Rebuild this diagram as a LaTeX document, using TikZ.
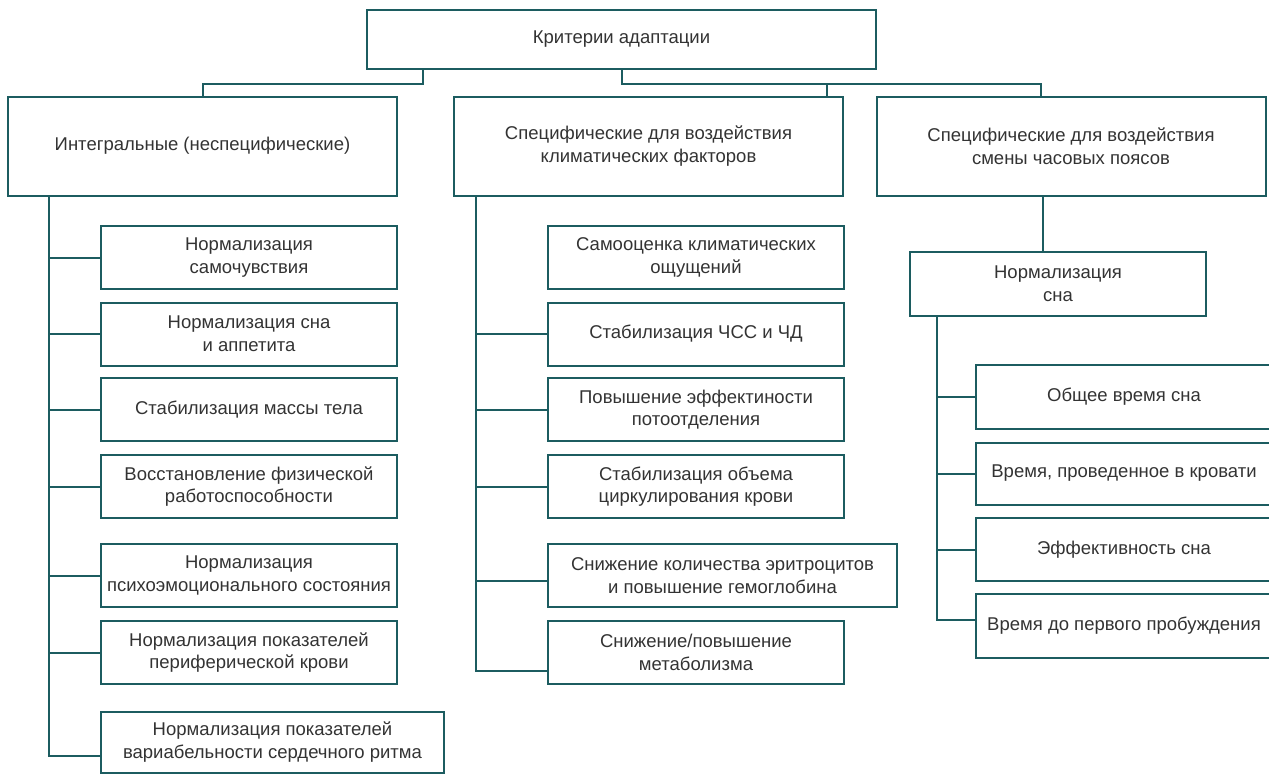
\documentclass[tikz,border=0pt]{standalone}
\usepackage{fontspec}
\setmainfont{Liberation Sans}
\definecolor{tealline}{RGB}{28, 92, 96}
\definecolor{textgray}{RGB}{51, 51, 51}

\begin{document}
\begin{tikzpicture}[x=1pt, y=-1pt,
  box/.style={draw=tealline, line width=2pt, inner sep=2pt, align=center,
              text=textgray, font=\fontsize{18.5}{22.7}\selectfont},
  head/.style={box, minimum width=389pt, minimum height=99pt},
  item/.style={box, minimum width=296pt, minimum height=63pt},
  link/.style={draw=tealline, line width=2pt},
]
\useasboundingbox (0,0) rectangle (1269,774);

% Top level
\node[box, minimum width=509pt, minimum height=59pt] (root) at (621.5, 39.5) {Критерии адаптации};
\node[head] (integ) at (202.5, 146) {Интегральные (неспецифические)};
\node[head] (clim) at (648.5, 146) {Специфические для воздействия\\климатических факторов};
\node[head] (tz) at (1071, 146) {Специфические для воздействия\\смены часовых поясов};

\coordinate (lft) at (423, 84);
\coordinate (rgt) at (622, 84);
\coordinate (cdrop) at (827, 0);
\coordinate (tdrop) at (1041, 0);
\draw[link] (lft |- root.south) -- (lft) -| (integ.north);
\draw[link] (rgt |- root.south) -- (rgt) -| (tdrop |- tz.north);
\draw[link] (rgt) -| (cdrop |- clim.north);

% Integral criteria
\node[item] (i1) at (249, 257.5) {Нормализация\\самочувствия};
\node[item] (i2) at (249, 334) {Нормализация сна\\и аппетита};
\node[item] (i3) at (249, 409.5) {Стабилизация массы тела};
\node[item] (i4) at (249, 486.5) {Восстановление физической\\работоспособности};
\node[item] (i5) at (249, 575.5) {Нормализация\\психоэмоционального состояния};
\node[item] (i6) at (249, 652.5) {Нормализация показателей\\периферической крови};
\node[item, minimum width=343pt, minimum height=61pt] (i7) at (272.5, 742) {Нормализация показателей\\вариабельности сердечного ритма};

\coordinate (itr) at (49, 0);
\draw[link] (itr |- integ.south) |- ([yshift=-14pt]i7.west);
\draw[link] (itr |- i1.west) -- (i1.west);
\draw[link] (itr |- i2.west) -- (i2.west);
\draw[link] (itr |- i3.west) -- (i3.west);
\draw[link] (itr |- i4.west) -- (i4.west);
\draw[link] (itr |- i5.west) -- (i5.west);
\draw[link] (itr |- i6.west) -- (i6.west);

% Climatic factors
\node[item] (c1) at (696, 257.5) {Самооценка климатических\\ощущений};
\node[item] (c2) at (696, 334) {Стабилизация ЧСС и ЧД};
\node[item] (c3) at (696, 409.5) {Повышение эффектиности\\потоотделения};
\node[item] (c4) at (696, 486.5) {Стабилизация объема\\циркулирования крови};
\node[item, minimum width=349pt] (c5) at (722.5, 575.5) {Снижение количества эритроцитов\\и повышение гемоглобина};
\node[item] (c6) at (696, 652.5) {Снижение/повышение\\метаболизма};

\coordinate (ctr) at (476, 0);
\draw[link] (ctr |- clim.south) |- ([yshift=-18pt]c6.west);
\draw[link] (ctr |- c2.west) -- (c2.west);
\draw[link] (ctr |- c3.west) -- (c3.west);
\draw[link] (ctr |- c4.west) -- (c4.west);
\draw[link] ([yshift=-5pt]c5.west) -- +(-72, 0);

% Time zones
\node[item, minimum height=64pt] (sleep) at (1058, 284) {Нормализация\\сна};
\coordinate (sdrop) at (1043, 0);
\draw[link] (sdrop |- tz.south) -- (sdrop |- sleep.north);

\node[item, minimum height=64pt] (t1) at (1124, 397) {Общее время сна};
\node[item, minimum height=62pt] (t2) at (1124, 473.5) {Время, проведенное в кровати};
\node[item, minimum height=63pt] (t3) at (1124, 549.5) {Эффективность сна};
\node[item, minimum height=64pt] (t4) at (1124, 626) {Время до первого пробуждения};

\coordinate (str) at (937, 0);
\draw[link] (str |- sleep.south) |- ([yshift=6pt]t4.west);
\draw[link] (str |- t1.west) -- (t1.west);
\draw[link] (str |- t2.west) -- (t2.west);
\draw[link] (str |- t3.west) -- (t3.west);
\end{tikzpicture}
\end{document}
